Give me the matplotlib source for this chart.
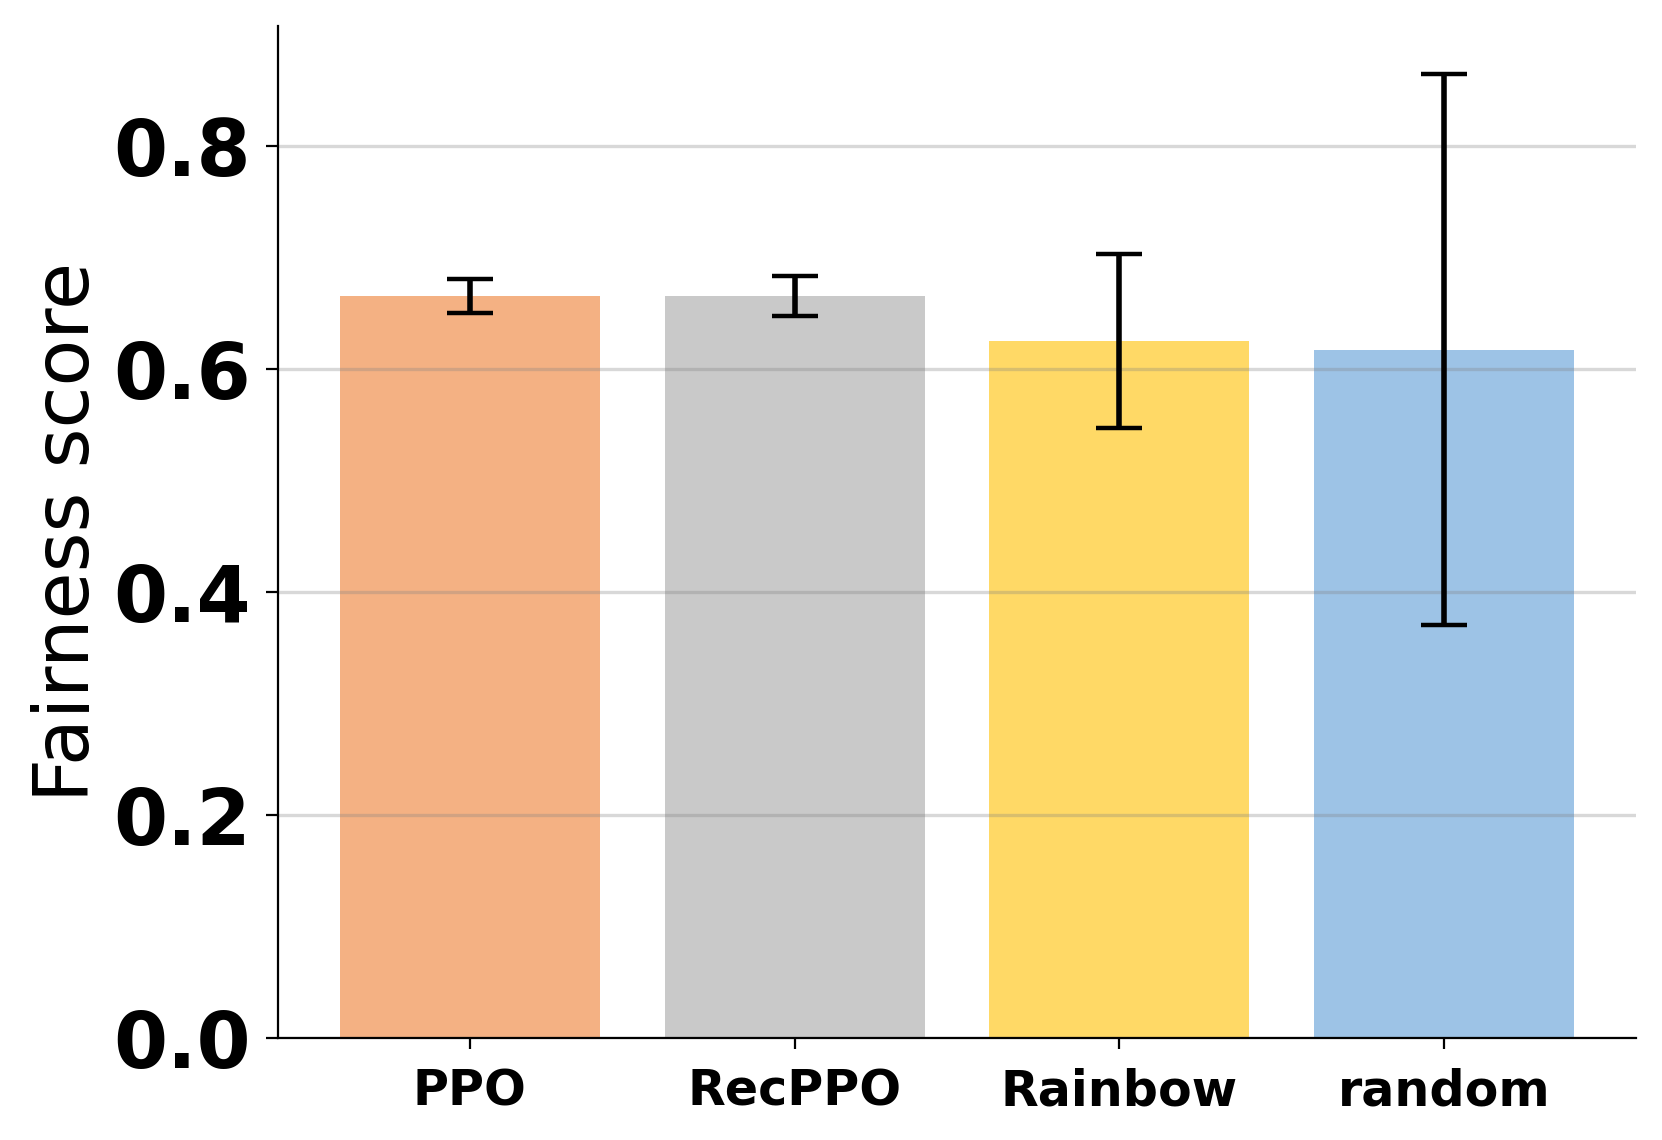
import matplotlib
matplotlib.use("Agg")
import matplotlib.pyplot as plt

methods = ["PPO", "RecPPO", "Rainbow", "random"]
scores = [0.665, 0.665, 0.625, 0.617]
errors = [0.015, 0.018, 0.078, 0.247]
colors = ["#F4B183", "#C9C9C9", "#FFD966", "#9DC3E6"]

DPI = 200
fig = plt.figure(figsize=(1662 / DPI, 1140 / DPI), dpi=DPI)
ax = fig.add_axes([278 / 1662, 102 / 1140, (1636 - 278) / 1662, (1038 - 26) / 1140])

ax.bar(methods, scores, yerr=errors, color=colors, width=0.8,
       capsize=8.3, error_kw=dict(elinewidth=2.0, capthick=1.6, ecolor="black"))

ax.yaxis.grid(True, color="gray", alpha=0.3, linewidth=1.2)
ax.spines["top"].set_visible(False)
ax.spines["right"].set_visible(False)
ax.set_ylabel("Fairness score", fontsize=27.5, labelpad=3)
ax.set_yticks([0.0, 0.2, 0.4, 0.6, 0.8])
ax.tick_params(axis="y", labelsize=28, length=4.3, pad=5.5)
ax.tick_params(axis="x", labelsize=17.7, length=4, pad=6.5)
for lab in ax.get_yticklabels() + ax.get_xticklabels():
    lab.set_fontweight("bold")

fig.savefig("out.png", dpi=DPI)
